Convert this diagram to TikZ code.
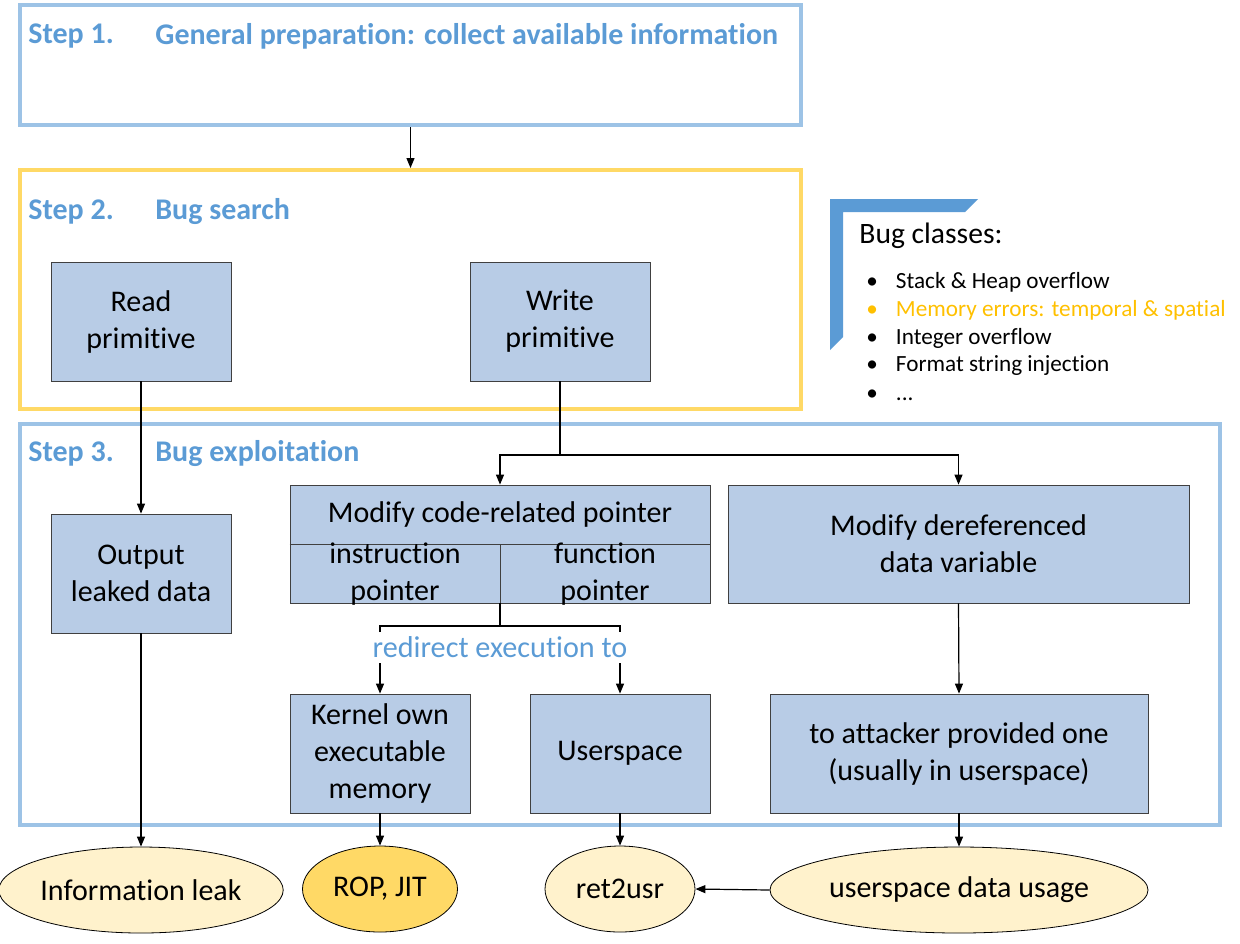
\documentclass[tikz,border=0pt]{standalone}
\usepackage{fontspec}
\setmainfont{Carlito}[Ligatures=NoCommon]
\usetikzlibrary{arrows.meta,shapes.geometric}
\definecolor{stepblue}{HTML}{5B9BD5}
\definecolor{frameblue}{HTML}{9DC3E6}
\definecolor{frameyellow}{HTML}{FFD966}
\definecolor{boxfill}{HTML}{B8CCE6}
\definecolor{elllight}{HTML}{FFF2CC}
\definecolor{elldark}{HTML}{FFD966}
\definecolor{bugorange}{HTML}{FFC000}
\definecolor{boxline}{HTML}{404040}
\begin{document}
\begin{tikzpicture}[x=0.5pt,y=-0.5pt,
  pbox/.style={draw=boxline,fill=boxfill,line width=0.4pt,inner sep=2pt,align=center,
    font=\fontsize{15}{18.5}\selectfont},
  plain/.style={inner sep=0pt,align=center,font=\fontsize{15}{18.5}\selectfont},
  ell/.style={ellipse,draw=black,line width=0.4pt,inner sep=0pt,
    font=\fontsize{15}{18.5}\selectfont},
  steplabel/.style={anchor=west,inner sep=0pt,text=stepblue,font=\fontsize{15}{17}\selectfont\bfseries},
  conn/.style={draw=black,line width=0.6pt},
  arr/.style={conn,-{Triangle[length=5pt,width=4pt]}},
  bullet/.style={anchor=west,inner sep=0pt,font=\fontsize{11.6}{13}\selectfont}
]
\useasboundingbox (0,0) rectangle (1240,943);

% step frames
\node[draw=frameblue,line width=2pt,minimum width=390.5pt,minimum height=60pt,inner sep=0pt] (step1) at (410.5,65) {};
\node[draw=frameyellow,line width=2pt,minimum width=390.5pt,minimum height=119.5pt,inner sep=0pt] (step2) at (410.5,289.5) {};
\node[draw=frameblue,line width=2pt,minimum width=600pt,minimum height=200.5pt,inner sep=0pt] (step3) at (620,624.5) {};

\node[steplabel] (s1a) at (28,36) {Step 1.};
\node[steplabel] (s1b) at (155,36) {General preparation: collect available information};
\node[steplabel] (s2a) at (28,212) {Step 2.};
\node[steplabel] (s2b) at (155,212) {Bug search};
\node[steplabel] (s3a) at (28,454) {Step 3.};
\node[steplabel] (s3b) at (155,454) {Bug exploitation};

\draw[arr] (step1.south) -- (step2.north);

% boxes
\node[pbox,minimum width=90pt,minimum height=59.5pt] (read) at (141,321.5) {Read\\primitive};
\node[pbox,minimum width=90pt,minimum height=59.5pt] (write) at (560,321.5) {Write\\primitive};
\node[pbox,minimum width=90pt,minimum height=59.5pt] (output) at (141,573.5) {Output\\leaked data};
\node[pbox,minimum width=210pt,minimum height=59pt] (modcode) at (500,544) {};
\draw[boxline,line width=0.4pt] (modcode.west) -- (modcode.east);
\draw[boxline,line width=0.4pt] (modcode.center) -- (modcode.south);
\node[plain] (modtitle) at (500,514) {Modify code-related pointer};
\node[plain] (instr) at (395,574) {instruction\\pointer};
\node[plain] (func) at (605,574) {function\\pointer};
\node[pbox,minimum width=230.5pt,minimum height=59pt] (deref) at (958.5,544) {Modify dereferenced\\data variable};
\node[pbox,minimum width=90pt,minimum height=59.5pt] (kernel) at (380,753.5) {Kernel own\\executable\\memory};
\node[pbox,minimum width=90pt,minimum height=59.5pt] (userspace) at (620,753.5) {Userspace};
\node[pbox,minimum width=189pt,minimum height=59.5pt] (attacker) at (959,753.5) {to attacker provided one\\(usually in userspace)};

% ellipses
\node[ell,fill=elllight,minimum width=136pt,minimum height=43pt] (infoleak) at (141,890) {Information leak};
\node[ell,fill=elldark,minimum width=77.5pt,minimum height=43pt] (rop) at (380,889) {ROP, JIT};
\node[ell,fill=elllight,minimum width=75pt,minimum height=43pt] (ret2usr) at (620,889) {ret2usr};
\node[ell,fill=elllight,minimum width=189pt,minimum height=43pt] (udata) at (959,890) {userspace data usage};

% connectors
\draw[arr] (read.south) -- (output.north);
\draw[arr] (output.south) -- (infoleak.north);
\coordinate (split) at (560,455);
\draw[conn] (write.south) -- (split);
\draw[arr] (split) -| (modcode.north);
\draw[arr] (split) -| (deref.north);
\coordinate (bracketmid) at (500,626);
\coordinate (bl) at (380,626);
\coordinate (br) at (620,626);
\draw[conn] (modcode.south) -- (bracketmid);
\draw[conn] (380,632) -- (bl) -- (br) -- (620,632);
\node[plain,text=stepblue,font=\fontsize{15.1}{17}\selectfont] (redir) at (500,647) {redirect execution to};
\coordinate (k0) at (380,663);
\coordinate (u0) at (620,663);
\draw[arr] (k0) -- (kernel.north);
\draw[arr] (u0) -- (userspace.north);
\draw[arr] (deref.south) -- (attacker.north);
\draw[arr] (kernel.south) -- (rop.north);
\draw[arr] (userspace.south) -- (ret2usr.north);
\draw[arr] (attacker.south) -- (udata.north);
\draw[arr] (udata.west) -- (ret2usr.east);

% bug classes panel
\fill[stepblue] (830,199) -- (978,199) -- (965,212) -- (843,212) -- (843,337) -- (830,350) -- cycle;
\node[anchor=west,inner sep=0pt,font=\fontsize{14.8}{17}\selectfont] (bugtitle) at (859,236) {Bug classes:};
\node[bullet] (b1) at (866,282) {\textbullet\hspace{9pt}Stack \& Heap overflow};
\node[bullet,text=bugorange] (b2) at (866,310) {\textbullet\hspace{9pt}Memory errors: temporal \& spatial};
\node[bullet] (b3) at (866,338) {\textbullet\hspace{9pt}Integer overflow};
\node[bullet] (b4) at (866,366) {\textbullet\hspace{9pt}Format string injection};
\node[bullet] (b5) at (866,395) {\textbullet\hspace{9pt}...};
\end{tikzpicture}
\end{document}
